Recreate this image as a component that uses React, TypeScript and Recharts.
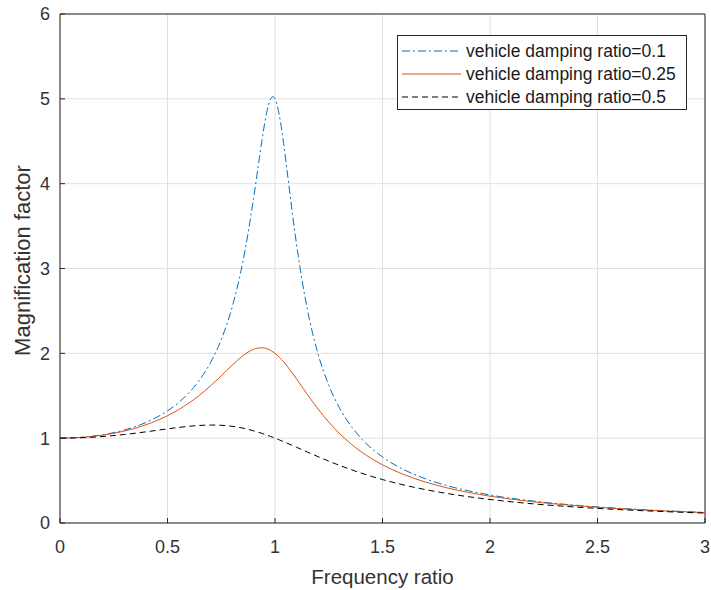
import React from "react";
import {
  LineChart,
  Line,
  XAxis,
  YAxis,
  CartesianGrid,
  Legend,
  ReferenceLine,
} from "recharts";

// Frequency ratio (x)
const frequencyRatio = [
  0, 0.1, 0.2, 0.3, 0.4, 0.5, 0.55, 0.6, 0.65, 0.7, 0.75, 0.8, 0.85, 0.9, 0.92,
  0.94, 0.96, 0.98, 0.99, 1.0, 1.02, 1.04, 1.06, 1.08, 1.1, 1.15, 1.2, 1.25,
  1.3, 1.35, 1.4, 1.5, 1.6, 1.7, 1.8, 2.0, 2.2, 2.4, 2.6, 2.8, 3.0,
];

// Magnification factor, damping ratio 0.1
const damping01 = [
  1.0, 1.0099, 1.0408, 1.0965, 1.1851, 1.3216, 1.4162, 1.5357, 1.6893, 1.8908,
  2.1622, 2.5384, 3.0729, 3.8208, 4.1721, 4.5225, 4.8218, 5.001, 5.0251, 5.0,
  4.8086, 4.4756, 4.075, 3.6675, 3.288, 2.5245, 1.9952, 1.6246, 1.3562, 1.1552,
  1.0, 0.7779, 0.628, 0.5207, 0.4408, 0.3304, 0.2587, 0.209, 0.1729, 0.1457,
  0.1247,
];

// Magnification factor, damping ratio 0.25
const damping025 = [
  1.0, 1.0088, 1.0361, 1.0843, 1.1581, 1.2649, 1.3338, 1.4148, 1.5091, 1.6167,
  1.7355, 1.8582, 1.9702, 2.0472, 2.062, 2.0653, 2.0561, 2.0342, 2.0186, 2.0,
  1.9547, 1.8998, 1.8375, 1.7697, 1.6986, 1.5168, 1.344, 1.1893, 1.0549, 0.9398,
  0.8417, 0.686, 0.5704, 0.4825, 0.4142, 0.3162, 0.2503, 0.2037, 0.1694, 0.1432,
  0.1229,
];

// Magnification factor, damping ratio 0.5
const damping05 = [
  1.0, 1.005, 1.0198, 1.0436, 1.0748, 1.1094, 1.1258, 1.1399, 1.1501, 1.1546,
  1.1517, 1.1399, 1.1184, 1.0871, 1.0721, 1.0558, 1.0382, 1.0196, 1.0099, 1.0,
  0.9796, 0.9586, 0.937, 0.9151, 0.893, 0.8373, 0.7824, 0.7295, 0.6795, 0.6326,
  0.5891, 0.5121, 0.4475, 0.3934, 0.348, 0.2774, 0.226, 0.1876, 0.1582, 0.1353,
  0.117,
];

const xTicks = [0, 0.5, 1, 1.5, 2, 2.5, 3];
const yTicks = [0, 1, 2, 3, 4, 5, 6];

const seriesNames = [
  "vehicle damping ratio=0.1",
  "vehicle damping ratio=0.25",
  "vehicle damping ratio=0.5",
];

const data = frequencyRatio.map((r, i) => ({
  r,
  d01: damping01[i],
  d025: damping025[i],
  d05: damping05[i],
}));

const FONT = '"Liberation Sans", Arial, Helvetica, sans-serif';
const AXIS_COLOR = "#262626";
const TEXT_COLOR = "#333333";

const series = [
  { key: "d01", name: seriesNames[0], color: "#0072BD", dash: "8 3 2 3" },
  { key: "d025", name: seriesNames[1], color: "#D95319", dash: undefined },
  { key: "d05", name: seriesNames[2], color: "#000000", dash: "6 4" },
];

const LegendBox = () => {
  const rows = [16, 39, 62];
  return (
    <svg width={290} height={75} style={{ display: "block" }}>
      <rect x={0.5} y={0.5} width={289} height={74} fill="#ffffff" stroke={AXIS_COLOR} strokeWidth={1} />
      {series.map((s, i) => (
        <g key={s.key}>
          <line
            x1={5}
            x2={64}
            y1={rows[i]}
            y2={rows[i]}
            stroke={s.color}
            strokeWidth={1.1}
            strokeDasharray={s.dash}
          />
          <text
            x={69}
            y={rows[i]}
            dominantBaseline="central"
            fontFamily={FONT}
            fontSize={17.5}
            fill="#1a1a1a"
          >
            {s.name}
          </text>
        </g>
      ))}
    </svg>
  );
};

const XLabel = (props: any) => {
  const vb = props.viewBox || {};
  return (
    <text
      x={vb.x + vb.width / 2}
      y={vb.y + 53}
      textAnchor="middle"
      dominantBaseline="central"
      fontFamily={FONT}
      fontSize={20.5}
      fill={TEXT_COLOR}
    >
      Frequency ratio
    </text>
  );
};

const YLabel = (props: any) => {
  const vb = props.viewBox || {};
  const cx = vb.x + 22;
  const cy = vb.y + vb.height / 2 - 8;
  return (
    <text
      x={cx}
      y={cy}
      transform={`rotate(-90 ${cx} ${cy})`}
      textAnchor="middle"
      dominantBaseline="central"
      fontFamily={FONT}
      fontSize={22}
      fill={TEXT_COLOR}
    >
      Magnification factor
    </text>
  );
};

const tickStyle = { fontFamily: FONT, fontSize: 18, fill: TEXT_COLOR };

export default function App() {
  return (
    <div
      style={{
        position: "absolute",
        left: 0,
        top: 0,
        width: 711,
        height: 590,
        background: "#ffffff",
        overflow: "hidden",
      }}
    >
      <LineChart
        width={711}
        height={590}
        data={data}
        margin={{ top: 14, right: 6, bottom: 0, left: 0 }}
      >
        <CartesianGrid stroke="#e0e0e0" strokeWidth={1} />
        <XAxis
          xAxisId={0}
          type="number"
          dataKey="r"
          domain={[0, 3]}
          ticks={xTicks}
          height={67}
          tickSize={-5}
          tickMargin={22}
          stroke={AXIS_COLOR}
          tick={tickStyle}
          interval={0}
          allowDataOverflow
          label={<XLabel />}
        />
        <YAxis
          yAxisId={0}
          type="number"
          domain={[0, 6]}
          ticks={yTicks}
          width={60}
          tickSize={-5}
          tickMargin={15}
          stroke={AXIS_COLOR}
          tick={tickStyle}
          interval={0}
          allowDataOverflow
          label={<YLabel />}
        />
        <ReferenceLine xAxisId={0} yAxisId={0} y={6} stroke={AXIS_COLOR} strokeWidth={1} ifOverflow="visible" />
        <ReferenceLine xAxisId={0} yAxisId={0} x={3} stroke={AXIS_COLOR} strokeWidth={1} ifOverflow="visible" />
        <Legend
          layout="vertical"
          align="center"
          verticalAlign="middle"
          wrapperStyle={{ left: 397, top: 35, width: 290, height: 75 }}
          content={() => <LegendBox />}
        />
        {series.map((s) => (
          <Line
            key={s.key}
            xAxisId={0}
            yAxisId={0}
            type="monotone"
            dataKey={s.key}
            name={s.name}
            stroke={s.color}
            strokeWidth={1}
            strokeDasharray={s.dash}
            dot={false}
            activeDot={false}
            isAnimationActive={false}
          />
        ))}
      </LineChart>
    </div>
  );
}
